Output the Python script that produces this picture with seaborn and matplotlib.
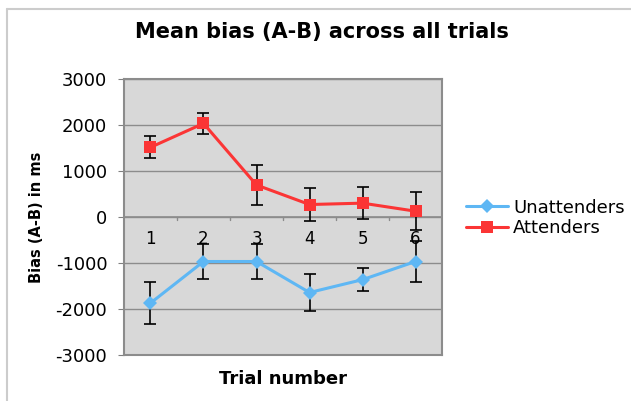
import numpy as np
import pandas as pd
import seaborn as sns
import matplotlib.pyplot as plt
from matplotlib.lines import Line2D

# data
trials = ["1", "2", "3", "4", "5", "6"]
unattenders = [-1870, -965, -965, -1640, -1360, -965]
unattenders_err = [460, 385, 390, 405, 250, 450]
attenders = [1520, 2040, 700, 275, 305, 130]
attenders_err = [240, 235, 425, 350, 350, 415]

df = pd.DataFrame({
    "trial": trials * 2,
    "bias": unattenders + attenders,
    "err": unattenders_err + attenders_err,
    "group": ["Unattenders"] * 6 + ["Attenders"] * 6,
})

sns.set_style("white")
plt.rcParams['font.family'] = ['DejaVu Sans']
plt.rcParams['text.color'] = 'black'
plt.rcParams['axes.labelcolor'] = 'black'
plt.rcParams['ytick.color'] = 'black'

fig = plt.figure(figsize=(6.31, 4.01), dpi=100)
ax = fig.add_axes([0.1965, 0.1147, 0.504, 0.6875])
ax.set_facecolor("#d8d8d8")

colors = {"Unattenders": "#5eb7f4", "Attenders": "#fb3535"}
markers = {"Unattenders": "D", "Attenders": "s"}
sizes = {"Unattenders": 7, "Attenders": 9}

for g in ["Unattenders", "Attenders"]:
    sub = df[df.group == g]
    x = np.arange(len(sub))
    ax.errorbar(x, sub.bias, yerr=sub.err, fmt="none", ecolor="black",
                elinewidth=1.2, capsize=4.5, capthick=1.2, zorder=2)
sns.lineplot(data=df, x="trial", y="bias", hue="group", style="group",
             palette=colors, markers=markers, dashes=False, markersize=9,
             markeredgewidth=0, linewidth=2.2, sort=False, ax=ax, zorder=3,
             legend=False)
for line, g in zip(ax.get_lines()[-2:], ["Unattenders", "Attenders"]):
    line.set_markersize(sizes[g])

ax.set_xlim(-0.5, 5.5)
ax.set_ylim(-3000, 3000)
ax.set_yticks(range(-3000, 3001, 1000))
ax.set_yticklabels([str(v) for v in range(-3000, 3001, 1000)], fontsize=13)
ax.yaxis.grid(True, color="#8c8c8c", linewidth=1)
ax.set_axisbelow(True)
ax.tick_params(axis="y", left=True, length=4, color="#808080", pad=8,
               labelcolor="black")

# category axis crossing at zero
ax.set_xticks([])
ax.axhline(0, color="#8c8c8c", linewidth=1.2, zorder=1)
for b in np.arange(0.5, 5.5, 1):
    ax.plot([b, b], [0, -70], color="#8c8c8c", linewidth=1, zorder=1)
for i, t in enumerate(trials):
    ax.text(i, -480, t, ha="center", va="center", fontsize=12, color="black",
            zorder=4)

for s in ax.spines.values():
    s.set_color("#8c8c8c")
    s.set_linewidth(1.5)

ax.set_xlabel("Trial number", fontsize=13, fontweight="bold", labelpad=11)
ax.set_ylabel("Bias (A-B) in ms", fontsize=10.5, fontweight="bold")
ax.yaxis.set_label_coords(-0.25, 0.5)
fig.text(0.51, 0.92, "Mean bias (A-B) across all trials", ha="center",
         va="center", fontsize=15, fontweight="bold")

handles = [Line2D([], [], color=colors[g], marker=markers[g], markersize=sizes[g],
                  markeredgewidth=0, linewidth=2.2) for g in ["Unattenders", "Attenders"]]
fig.legend(handles, ["Unattenders", "Attenders"], loc="center left",
           bbox_to_anchor=(0.713, 0.456), frameon=False, fontsize=13,
           handlelength=2.3, handletextpad=0.3, labelspacing=0.15)

# outer chart frame
fig.add_artist(Line2D([0.011, 1.0], [0.978, 0.978], color="#cccccc", linewidth=1.5))
fig.add_artist(Line2D([0.011, 0.011], [0.0, 0.978], color="#cccccc", linewidth=1.5))

fig.savefig("out.png", dpi=100)
